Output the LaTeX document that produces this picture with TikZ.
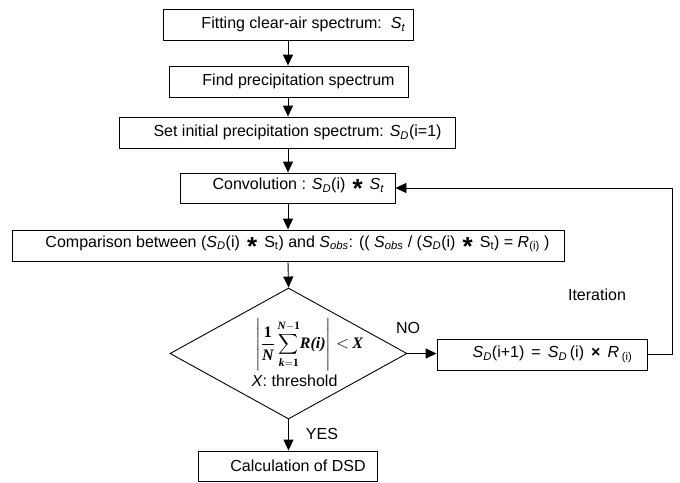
\documentclass[tikz,border=0pt]{standalone}
\usepackage{amsmath}
\usepackage{exscale}
\usepackage{graphicx}
\usepackage{fontspec}
\setmainfont{Liberation Sans}
\newfontfamily\tnr{Liberation Serif}
\usetikzlibrary{arrows.meta,shapes.geometric}
\newcommand\Sv[1]{\textit{S}\textsubscript{\textit{#1}}}
\newcommand\cstar{\,\raisebox{-8pt}{\fontsize{26}{26}\selectfont\bfseries *}\,}
\newcommand\tb[1]{\text{\tnr\bfseries\itshape #1}}
\newcommand\tbu[1]{\text{\tnr\bfseries #1}}
\newcommand\mysum{\mathop{\vcenter{\hbox{\scalebox{0.8}[0.82]{$\displaystyle\sum$}}}}\limits}
\begin{document}
\begin{tikzpicture}[x=1pt,y=-1pt,
  box/.style={draw, line width=0.9pt, rectangle, inner sep=0pt},
  txt/.style={inner sep=0pt, font=\fontsize{16}{19}\selectfont},
  arr/.style={line width=0.9pt, -{Triangle[length=11pt,width=10pt]}},
  ln/.style={line width=0.9pt}]
\useasboundingbox (0,0) rectangle (680,482);
\fill[white] (0,0) rectangle (680,482);
% boxes
\node[box, minimum width=250pt, minimum height=31pt] (b1) at (288,24.5) {};
\node[txt] (t1) at (303.5,24.5) {Fitting clear-air spectrum:\ \ \Sv{t}};
\node[box, minimum width=239pt, minimum height=31pt] (b2) at (288.5,81.5) {};
\node[txt] (t2) at (298.5,81.5) {Find precipitation spectrum};
\node[box, minimum width=336pt, minimum height=31pt] (b3) at (287,132.5) {};
\node[txt] (t3) at (297.5,132.5) {Set initial precipitation spectrum: \Sv{D}(i=1)};
\node[box, minimum width=215pt, minimum height=30pt] (b4) at (287.5,188) {};
\node[txt] (t4) at (298.5,188) {Convolution : \Sv{D}(i) \cstar\ \Sv{t}};
\node[box, minimum width=552pt, minimum height=31pt] (b5) at (288,245.5) {};
\node[txt] (t5) at (297.5,245.5) {Comparison between (\Sv{D}(i) \cstar\ S\textsubscript{t}) and \Sv{obs}: (( \Sv{obs} / (\Sv{D}(i) \cstar\ S\textsubscript{t}) = \textit{R}\textsubscript{(i)} )};
\node[draw, line width=0.9pt, diamond, minimum width=237pt, minimum height=131pt, inner sep=0pt] (dm) at (288.5,353.5) {};
\node[inner sep=0pt, font=\fontsize{16}{19}\selectfont] (f) at (309,344.5)
  {$\displaystyle\left|\frac{\tbu{1}}{\tb{N}}\mysum_{\tb{k}=\tbu{1}}^{\tb{N}-\tbu{1}}\!\tb{R(i)}\right|\mkern2mu{<}\mkern3mu\tb{X}$};
\node[txt] (th) at (294.5,380.5) {\textit{X}: threshold};
\node[box, minimum width=210pt, minimum height=31pt] (rb) at (542,354.5) {};
\node[txt] (trb) at (552.5,354.5) {\Sv{D}(i+1)\ \,=\ \,\Sv{D}\,(i)\ \,\textbf{×}\ \,\textit{R}\,\textsubscript{(i)}};
\node[box, minimum width=179pt, minimum height=30pt] (b6) at (287.5,466) {};
\node[txt] (t6) at (298,466) {Calculation of DSD};
% labels
\node[txt] (no) at (408,328) {NO};
\node[txt] (yes) at (322,434) {YES};
\node[txt] (it) at (597,295) {Iteration};
% connectors
\draw[arr] (b1.south) -- (b1.south |- b2.north);
\draw[arr] (b1.south |- b2.south) -- (b1.south |- b3.north);
\draw[arr] (b1.south |- b3.south) -- (b1.south |- b4.north);
\draw[arr] (b1.south |- b4.south) -- (b1.south |- b5.north);
\draw[arr] (b1.south |- b5.south) -- (dm.north);
\draw[arr] (dm.south) -- (dm.south |- b6.north);
\draw[arr] (dm.east) -- (dm.east -| rb.west);
\draw[arr] (rb.east) -- ++(25,0) |- (b4.east);
\end{tikzpicture}
\end{document}
